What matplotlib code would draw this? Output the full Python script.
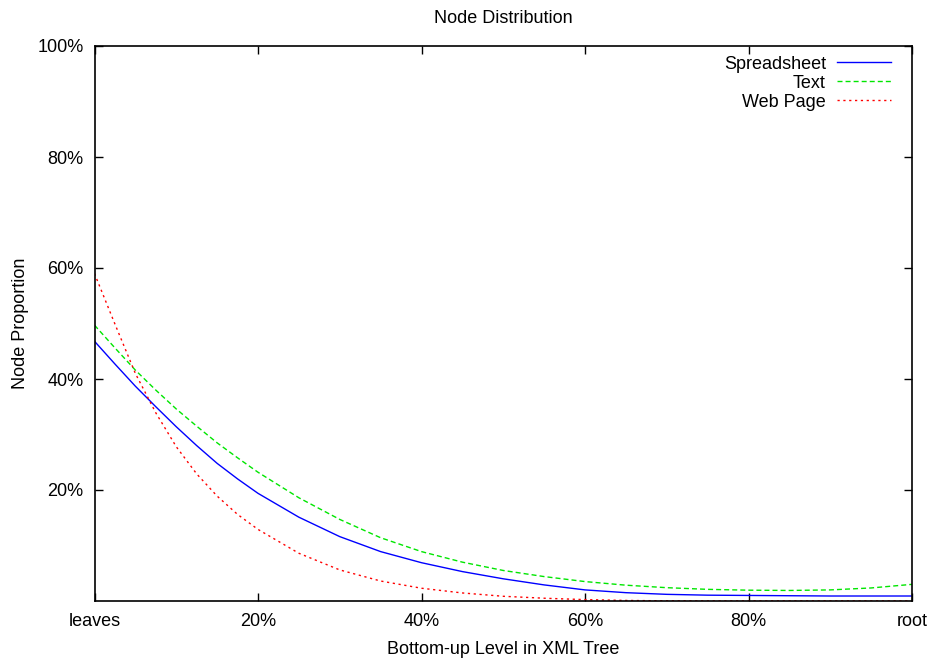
import matplotlib
matplotlib.use("Agg")
import matplotlib.pyplot as plt

plt.rcParams['font.family'] = ['Liberation Sans', 'DejaVu Sans']

# Relative level in the tree (0 = leaves, 100 = root), in percent
level = [0, 2.5, 5, 7.5, 10, 12.5, 15, 17.5, 20, 25, 30, 35, 40, 45, 50,
         55, 60, 65, 70, 75, 80, 85, 90, 95, 100]

# Share of nodes found at each level, in percent
spreadsheet = [46.8, 42.7, 38.7, 35.0, 31.4, 28.0, 24.8, 22.0, 19.4, 15.1, 11.6, 8.9, 6.9,
               5.3, 4.0, 2.9, 2.0, 1.5, 1.2, 1.05, 1.0, 0.95, 0.9, 0.9, 0.9]
text = [49.7, 45.6, 41.6, 38.0, 34.6, 31.5, 28.5, 25.8, 23.2, 18.6, 14.7, 11.4, 8.9,
        7.0, 5.5, 4.4, 3.5, 2.85, 2.4, 2.1, 1.95, 1.9, 2.0, 2.35, 3.0]
web_page = [59.0, 49.9, 41.0, 33.9, 27.8, 22.9, 18.9, 15.6, 12.9, 8.6, 5.6, 3.6, 2.3,
            1.45, 0.85, 0.5, 0.25, 0.1, 0.03, 0.0, 0.0, 0.0, 0.0, 0.0, 0.0]

x_ticks = [0, 20, 40, 60, 80, 100]
x_tick_labels = ['leaves', '20%', '40%', '60%', '80%', 'root']
y_ticks = [20, 40, 60, 80, 100]
y_tick_labels = ['20%', '40%', '60%', '80%', '100%']

FS = 13

fig = plt.figure(figsize=(9.3, 6.59), dpi=100)
ax = fig.add_axes([94.5 / 930, 1 - 601 / 659, (912 - 94.5) / 930, (601 - 46) / 659])

ax.plot(level, spreadsheet, color='#0000ff', lw=1.0, label='Spreadsheet')
ax.plot(level, text, color='#00e600', lw=1.0, dashes=(3.6, 2.2), label='Text')
ax.plot(level, web_page, color='#ff0000', lw=1.0, dashes=(1.6, 2.6), label='Web Page')

ax.set_xlim(0, 100)
ax.set_ylim(0, 100)

ax.set_xticks(x_ticks)
ax.set_xticklabels(x_tick_labels)
ax.set_yticks(y_ticks)
ax.set_yticklabels(y_tick_labels)

ax.tick_params(axis='both', which='major', direction='in', length=6, width=1.0,
               top=True, right=True, labelsize=FS, colors='black')
ax.tick_params(axis='x', pad=9)
ax.tick_params(axis='y', pad=8)

for sp in ax.spines.values():
    sp.set_linewidth(1.2)
    sp.set_color('black')

ax.set_title('Node Distribution', fontsize=FS, pad=16.5)
ax.set_xlabel('Bottom-up Level in XML Tree', fontsize=FS, labelpad=7.5)
ax.set_ylabel('Node Proportion', fontsize=FS, labelpad=6)

leg = ax.legend(loc='upper right', bbox_to_anchor=(0.9743, 0.9828), frameon=False,
                markerfirst=False, fontsize=FS, handlelength=3.0, handletextpad=0.6,
                labelspacing=0.11, borderaxespad=0, borderpad=0)

fig.savefig('out.png', dpi=100)
